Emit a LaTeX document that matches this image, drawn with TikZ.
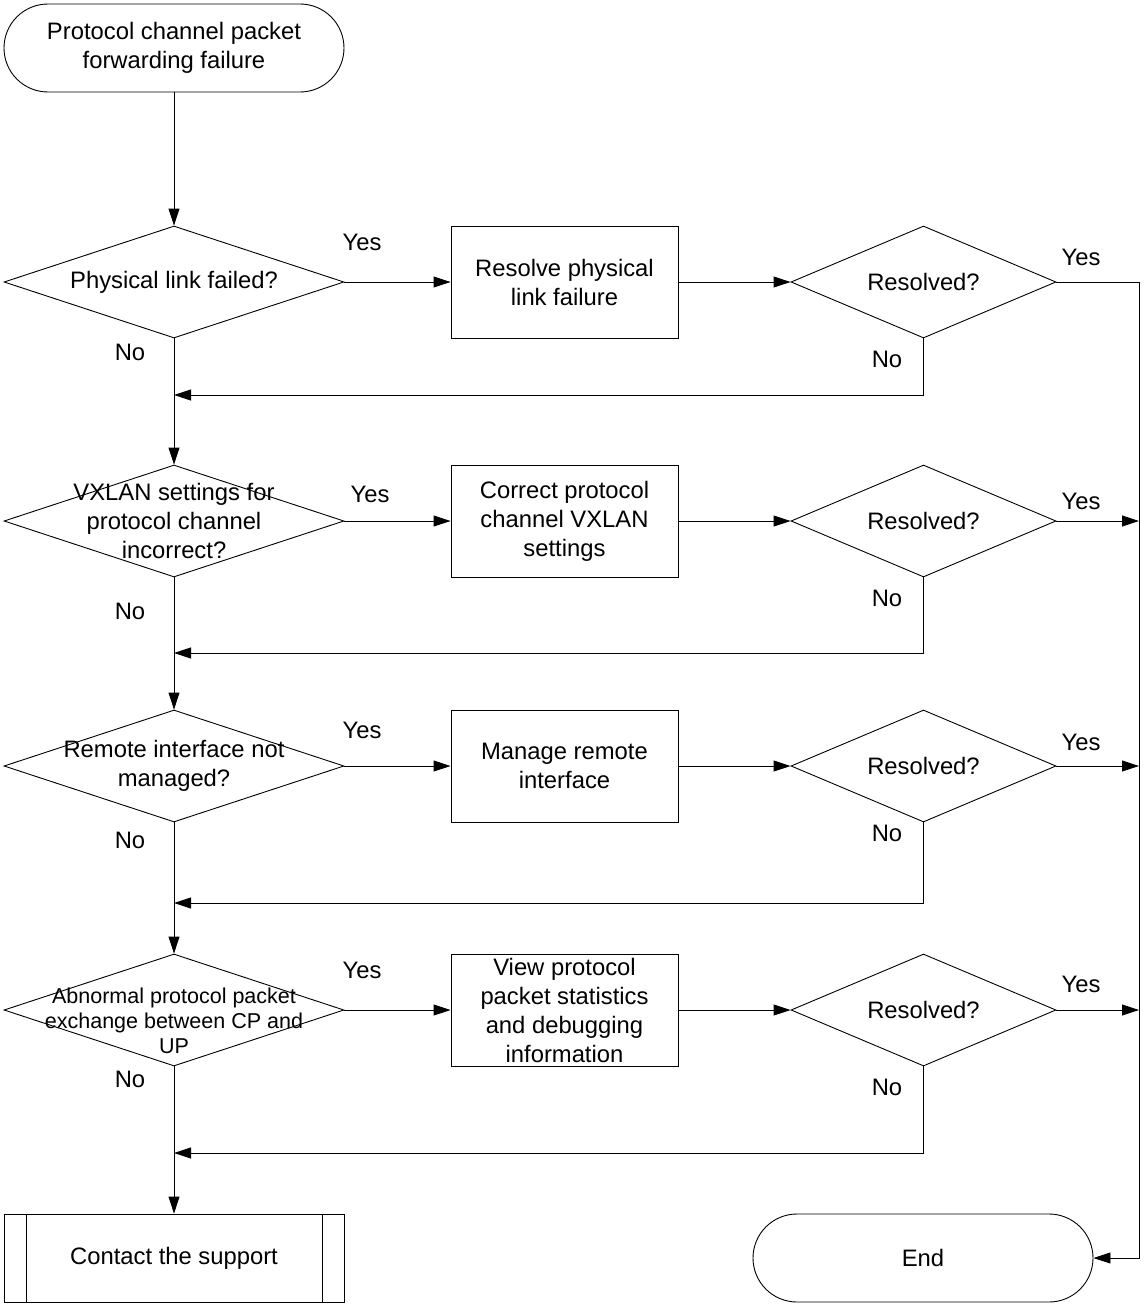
\documentclass[tikz,border=0pt]{standalone}
\usepackage{fontspec}
\setmainfont{Liberation Sans}
\usetikzlibrary{arrows.meta,shapes.geometric,positioning}

\begin{document}
\begin{tikzpicture}[x=1pt, y=-1pt, line width=0.9pt,
  every node/.style = {font=\fontsize{23.8}{29}\selectfont, inner sep=0pt},
  terminal/.style = {draw, rectangle, rounded corners=44pt,
    minimum width=340pt, minimum height=88pt, align=center},
  decision/.style = {draw, diamond, minimum width=340pt, minimum height=112pt},
  check/.style = {draw, diamond, minimum width=265pt, minimum height=112pt},
  action/.style = {draw, rectangle, minimum width=227pt, minimum height=112pt,
    align=center},
  support/.style = {draw, rectangle, minimum width=340pt, minimum height=88pt,
    path picture={
      \draw ([xshift=22pt]path picture bounding box.north west)
        -- ([xshift=22pt]path picture bounding box.south west);
      \draw ([xshift=-22pt]path picture bounding box.north east)
        -- ([xshift=-22pt]path picture bounding box.south east);}},
  arr/.style = {-{Triangle[length=17pt,width=11pt]}}]
  \useasboundingbox (0,0) rectangle (1144,1306);

  % left column
  \node[terminal] (start) at (174,48) {Protocol channel packet\\forwarding failure};
  \node[decision, label={center:Physical link failed?}] (q1) at (174,282) {};
  \node[decision, label={[align=center]center:{VXLAN settings for\\protocol channel\\incorrect?}}] (q2) at (174,521) {};
  \node[decision, label={[align=center]center:{Remote interface not\\managed?}}] (q3) at (174,766) {};
  \node[decision, label={[align=center, yshift=-11pt,
    font=\fontsize{21.5}{25}\selectfont]center:{Abnormal protocol packet\\exchange between CP and\\UP}}] (q4) at (174,1010) {};
  \node[support] (help) at (174,1258) {Contact the support};

  % middle column
  \node[action] (fix1) at (564.5,282) {Resolve physical\\link failure};
  \node[action] (fix2) at (564.5,521) {Correct protocol\\channel VXLAN\\settings};
  \node[action] (fix3) at (564.5,766) {Manage remote\\interface};
  \node[action] (fix4) at (564.5,1010) {View protocol\\packet statistics\\and debugging\\information};

  % right column
  \node[check, label={center:Resolved?}] (ok1) at (923.5,282) {};
  \node[check, label={center:Resolved?}] (ok2) at (923.5,521) {};
  \node[check, label={center:Resolved?}] (ok3) at (923.5,766) {};
  \node[check, label={center:Resolved?}] (ok4) at (923.5,1010) {};
  \node[terminal] (end) at (923,1258) {End};

  \coordinate (rail) at (1139,1258);
  \coordinate (m1) at (174,395);
  \coordinate (m2) at (174,653);
  \coordinate (m3) at (174,903);
  \coordinate (m4) at (174,1153);

  % main flow
  \draw[arr] (start) -- (q1);
  \draw[arr] (q1) -- (q2);
  \draw[arr] (q2) -- (q3);
  \draw[arr] (q3) -- (q4);
  \draw[arr] (q4) -- (help);
  \foreach \i in {1,2,3,4} {
    \draw[arr] (q\i) -- (fix\i);
    \draw[arr] (fix\i) -- (ok\i);
    \draw[arr] (ok\i.south) |- (m\i);
  }
  \draw[arr] (ok1.east) -| (rail) -- (end.east);
  \draw[arr] (ok2.east) -- (ok2.east -| rail);
  \draw[arr] (ok3.east) -- (ok3.east -| rail);
  \draw[arr] (ok4.east) -- (ok4.east -| rail);

  % labels
  \node (yes1) at (362,242) {Yes};
  \node (yes2) at (370,494) {Yes};
  \node (yes3) at (362,730) {Yes};
  \node (yes4) at (362,970) {Yes};
  \node (no1) at (130,352) {No};
  \node (no2) at (130,611) {No};
  \node (no3) at (130,840) {No};
  \node (no4) at (130,1079) {No};
  \node (done1) at (1081,257) {Yes};
  \node (done2) at (1081,501) {Yes};
  \node (done3) at (1081,742) {Yes};
  \node (done4) at (1081,984) {Yes};
  \node (again1) at (887,359) {No};
  \node (again2) at (887,598) {No};
  \node (again3) at (887,833) {No};
  \node (again4) at (887,1087) {No};
\end{tikzpicture}
\end{document}
